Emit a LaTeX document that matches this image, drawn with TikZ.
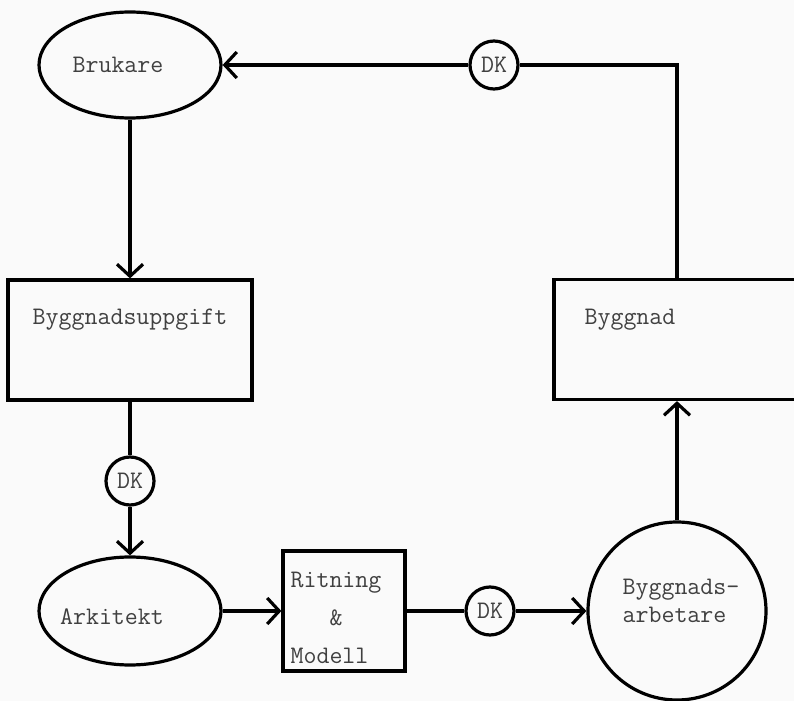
\documentclass[tikz,border=0pt]{standalone}
\usetikzlibrary{shapes.geometric,arrows.meta}
\begin{document}
\begin{tikzpicture}[x=0.5pt, y=-0.5pt, line width=1.6pt]
    \tikzstyle{every node} = [font=\ttfamily\fontsize{12.6}{14}\selectfont, text=black!75]
    \tikzstyle{oval} = [draw, ellipse, minimum width=91pt, minimum height=53pt, inner sep=0pt]
    \tikzstyle{box} = [draw, rectangle, minimum height=60pt, inner sep=0pt]
    \tikzstyle{dk} = [draw, circle, minimum size=24pt, inner sep=0pt]
    \tikzstyle{flow} = [-{Straight Barb[length=6pt, width=13pt]}]

    \fill[black!2] (0,0) rectangle (794,701);
    \useasboundingbox (0,0) rectangle (794,701);

    % left column
    \node[oval, label={[xshift=-6pt]center:Brukare}] (brukare) at (130,65) {};
    \node[box, minimum width=122pt, label={[yshift=10pt]center:Byggnadsuppgift}]
        (uppgift) at (130,340) {};
    \node[dk] (dk1) at (130,481) {DK};
    \node[oval, minimum height=54pt, label={[xshift=-9pt, yshift=-3pt]center:Arkitekt}]
        (arkitekt) at (130,611) {};

    % bottom row
    \node[box, minimum width=61pt,
        label={[xshift=-4pt, yshift=-3.5pt, align=left,
            font=\ttfamily\fontsize{12.6}{19}\selectfont]center:Ritning\\\phantom{Rit}\&\\Modell}]
        (ritning) at (344,611) {};
    \node[dk] (dk3) at (490,611) {DK};
    \node[draw, circle, minimum size=89pt, inner sep=0pt,
        label={[xshift=2pt, yshift=5pt, align=left]center:Byggnads-\\arbetare}]
        (arbetare) at (677,611) {};

    % right column
    \node[box, minimum width=128pt, label={[xshift=-26pt, yshift=10pt]center:Byggnad}]
        (byggnad) at (682,339.5) {};
    \node[dk] (dk2) at (494,65) {DK};

    \draw[flow] (brukare) -- (uppgift);
    \draw (uppgift) -- (dk1);
    \draw[flow] (dk1) -- (arkitekt);
    \draw[flow] (arkitekt) -- (ritning);
    \draw (ritning) -- (dk3);
    \draw[flow] (dk3) -- (arbetare);
    \draw[flow] (arbetare) -- (arbetare |- byggnad.south);
    \draw (arbetare |- byggnad.north) |- (dk2.east);
    \draw[flow] (dk2) -- (brukare);
\end{tikzpicture}
\end{document}
